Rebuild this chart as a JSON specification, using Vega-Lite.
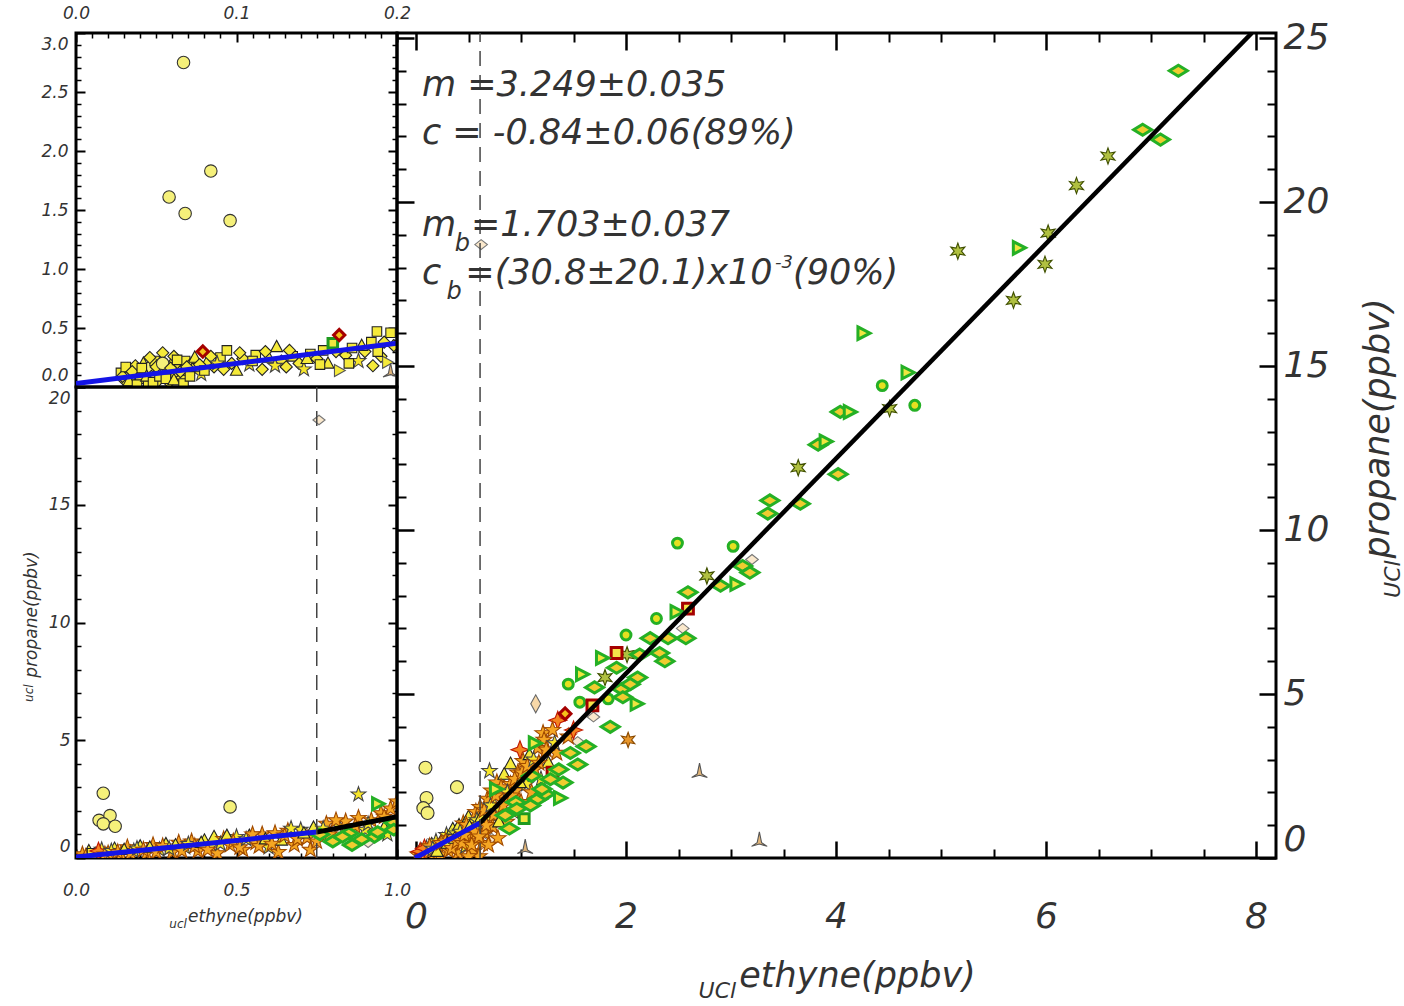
{
"$schema": "https://vega.github.io/schema/vega-lite/v6.json",
"background": "white",
"padding": {"left": 20, "top": 2, "right": 0, "bottom": 0},
"spacing": 321,
"bounds": "flush",
"config": {
  "view": {"stroke": "#000", "strokeWidth": 3},
  "axis": {"domain": false, "grid": false, "labelFont": "DejaVu Sans", "titleFont": "DejaVu Sans", "labelFontStyle": "italic", "titleFontStyle": "italic", "labelColor": "#333", "titleColor": "#333", "titleFontWeight": "normal", "tickColor": "#000"},
  "text": {"font": "DejaVu Sans", "fontStyle": "italic", "color": "#333"}
},
"datasets": {
  "main": [
    {"x":7.26,"y":24.0,"t":"gd"},{"x":6.92,"y":22.2,"t":"gd"},{"x":7.09,"y":21.9,"t":"gd"},{"x":6.59,"y":21.4,"t":"ga"},{"x":6.29,"y":20.5,"t":"ga"},{"x":6.02,"y":19.05,"t":"ga"},{"x":5.99,"y":18.1,"t":"ga"},{"x":5.69,"y":17.0,"t":"ga"},{"x":5.16,"y":18.5,"t":"ga"},{"x":5.74,"y":18.6,"t":"gt"},
    {"x":4.26,"y":16.0,"t":"gt"},{"x":4.68,"y":14.8,"t":"gt"},{"x":4.44,"y":14.4,"t":"gc"},{"x":4.51,"y":13.7,"t":"ga"},{"x":4.75,"y":13.8,"t":"gc"},{"x":4.04,"y":13.6,"t":"gd"},{"x":4.13,"y":13.6,"t":"gt"},{"x":3.83,"y":12.6,"t":"gd"},{"x":3.9,"y":12.7,"t":"gt"},{"x":3.64,"y":11.9,"t":"ga"},
    {"x":4.02,"y":11.7,"t":"gd"},{"x":3.37,"y":10.9,"t":"gd"},{"x":3.66,"y":10.8,"t":"gd"},{"x":3.35,"y":10.5,"t":"gd"},
    {"x":2.49,"y":9.6,"t":"gc"},{"x":3.02,"y":9.5,"t":"gc"},{"x":3.2,"y":9.1,"t":"ps"},{"x":3.11,"y":8.9,"t":"gd"},{"x":3.18,"y":8.7,"t":"gd"},{"x":2.77,"y":8.6,"t":"ga"},{"x":3.05,"y":8.35,"t":"gt"},{"x":2.9,"y":8.3,"t":"gd"},{"x":2.59,"y":8.1,"t":"gd"},{"x":2.59,"y":7.6,"t":"rs"},
    {"x":2.48,"y":7.5,"t":"gt"},{"x":2.29,"y":7.3,"t":"gc"},{"x":2.54,"y":7.0,"t":"ps"},{"x":2.57,"y":6.7,"t":"gd"},{"x":2.4,"y":6.7,"t":"gd"},{"x":2.23,"y":6.7,"t":"gd"},{"x":2.0,"y":6.8,"t":"gc"},{"x":1.91,"y":6.25,"t":"rs"},{"x":2.01,"y":6.2,"t":"ga"},{"x":2.32,"y":6.25,"t":"gd"},
    {"x":2.37,"y":6.0,"t":"gd"},{"x":1.77,"y":6.1,"t":"gt"},{"x":2.13,"y":6.2,"t":"gd"},{"x":1.45,"y":5.3,"t":"gc"},{"x":1.58,"y":5.6,"t":"gt"},{"x":1.91,"y":5.8,"t":"gd"},{"x":2.11,"y":5.5,"t":"gd"},{"x":1.8,"y":5.5,"t":"ga"},{"x":1.7,"y":5.2,"t":"gd"},{"x":1.96,"y":5.15,"t":"gd"},
    {"x":2.04,"y":5.3,"t":"gd"},{"x":2.1,"y":4.7,"t":"gt"},{"x":1.83,"y":4.85,"t":"gc"},{"x":1.97,"y":4.9,"t":"gd"},{"x":1.56,"y":4.75,"t":"gc"},{"x":1.68,"y":4.65,"t":"rs"},{"x":1.69,"y":4.3,"t":"ps"},{"x":1.85,"y":4.0,"t":"gd"},
    {"x":1.14,"y":4.7,"t":"pd"},{"x":1.35,"y":4.2,"t":"r4"},{"x":1.42,"y":4.4,"t":"rd"},{"x":1.21,"y":3.8,"t":"os"},{"x":0.99,"y":3.3,"t":"r4"},{"x":1.13,"y":3.5,"t":"gt"},{"x":1.54,"y":2.85,"t":"gd"},{"x":1.54,"y":3.55,"t":"ps"},{"x":1.47,"y":3.2,"t":"gd"},{"x":1.62,"y":3.4,"t":"gd"},
    {"x":1.3,"y":2.6,"t":"rs"},{"x":0.7,"y":2.65,"t":"ys"},{"x":0.76,"y":2.1,"t":"gt"},{"x":1.16,"y":1.8,"t":"gd"},{"x":1.23,"y":1.95,"t":"gd"},{"x":1.37,"y":1.83,"t":"gt"},{"x":1.03,"y":1.2,"t":"gq"},{"x":0.9,"y":2.87,"t":"yt"},{"x":1.4,"y":2.3,"t":"gd"},{"x":1.1,"y":2.5,"t":"gd"},
    {"x":0.95,"y":1.7,"t":"gd"},{"x":0.85,"y":1.3,"t":"gd"},{"x":0.72,"y":0.6,"t":"ps"},{"x":1.04,"y":0.3,"t":"ty"},{"x":2.7,"y":2.62,"t":"ty"},{"x":3.27,"y":0.52,"t":"ty"},{"x":2.02,"y":3.6,"t":"oa"},{"x":0.62,"y":18.7,"t":"ps"},
    {"x":0.09,"y":2.75,"t":"cy"},{"x":0.39,"y":2.16,"t":"cy"},{"x":0.1,"y":1.83,"t":"cy"},{"x":0.07,"y":1.52,"t":"cy"},{"x":0.11,"y":1.37,"t":"cy"},
    {"x":0.02,"y":0.1,"t":"os"},{"x":0.05,"y":0.25,"t":"yt"},{"x":0.07,"y":0.05,"t":"os"},{"x":0.1,"y":0.3,"t":"ys"},{"x":0.12,"y":0.18,"t":"os"},{"x":0.15,"y":0.42,"t":"yt"},{"x":0.17,"y":0.12,"t":"os"},{"x":0.19,"y":0.5,"t":"ys"},{"x":0.21,"y":0.32,"t":"os"},{"x":0.23,"y":0.1,"t":"os"},
    {"x":0.25,"y":0.58,"t":"yt"},{"x":0.27,"y":0.38,"t":"os"},{"x":0.29,"y":0.7,"t":"ys"},{"x":0.31,"y":0.22,"t":"os"},{"x":0.33,"y":0.6,"t":"os"},{"x":0.35,"y":0.88,"t":"yt"},{"x":0.36,"y":0.42,"t":"os"},{"x":0.38,"y":0.75,"t":"ys"},{"x":0.4,"y":0.15,"t":"os"},{"x":0.41,"y":1.0,"t":"yt"},
    {"x":0.43,"y":0.58,"t":"os"},{"x":0.45,"y":1.05,"t":"os"},{"x":0.47,"y":0.35,"t":"ys"},{"x":0.49,"y":0.85,"t":"os"},{"x":0.5,"y":1.25,"t":"yt"},{"x":0.52,"y":0.62,"t":"os"},{"x":0.54,"y":1.1,"t":"ys"},{"x":0.55,"y":0.2,"t":"os"},{"x":0.57,"y":1.4,"t":"os"},{"x":0.59,"y":0.9,"t":"yt"},
    {"x":0.61,"y":1.55,"t":"os"},{"x":0.63,"y":0.45,"t":"os"},{"x":0.64,"y":1.15,"t":"ys"},{"x":0.66,"y":0.75,"t":"os"},{"x":0.68,"y":1.8,"t":"os"},{"x":0.7,"y":1.3,"t":"yt"},{"x":0.72,"y":2.05,"t":"os"},{"x":0.73,"y":0.95,"t":"os"},{"x":0.75,"y":1.6,"t":"ys"},{"x":0.77,"y":2.3,"t":"os"},
    {"x":0.78,"y":0.6,"t":"os"},{"x":0.8,"y":1.45,"t":"ys"},{"x":0.82,"y":1.95,"t":"os"},{"x":0.84,"y":2.55,"t":"yt"},{"x":0.86,"y":1.1,"t":"os"},{"x":0.88,"y":1.75,"t":"os"},{"x":0.9,"y":2.25,"t":"os"},{"x":0.93,"y":1.4,"t":"ys"},{"x":0.95,"y":2.05,"t":"os"},{"x":0.97,"y":2.6,"t":"os"},
    {"x":1.0,"y":1.7,"t":"os"},{"x":1.02,"y":2.95,"t":"os"},{"x":1.05,"y":2.25,"t":"ys"},{"x":1.08,"y":3.15,"t":"yt"},{"x":1.1,"y":2.0,"t":"os"},{"x":1.13,"y":2.7,"t":"os"},{"x":1.16,"y":3.35,"t":"os"},{"x":1.19,"y":2.4,"t":"ys"},{"x":1.22,"y":3.6,"t":"os"},{"x":1.26,"y":2.9,"t":"yt"},
    {"x":1.3,"y":3.9,"t":"os"},{"x":1.34,"y":3.2,"t":"os"},{"x":0.6,"y":0.05,"t":"os"},{"x":0.5,"y":0.05,"t":"os"},
    {"x":0.04,"y":0.2,"t":"r4"},{"x":0.08,"y":0.3,"t":"r4"},{"x":0.13,"y":0.35,"t":"os"},{"x":0.16,"y":0.28,"t":"ys"},{"x":0.2,"y":0.2,"t":"yt"},{"x":0.24,"y":0.45,"t":"os"},{"x":0.28,"y":0.5,"t":"os"},{"x":0.3,"y":0.45,"t":"yt"},{"x":0.34,"y":0.3,"t":"os"},{"x":0.37,"y":0.6,"t":"yt"},
    {"x":0.39,"y":0.5,"t":"os"},{"x":0.42,"y":0.8,"t":"ys"},{"x":0.44,"y":0.45,"t":"os"},{"x":0.46,"y":0.7,"t":"os"},{"x":0.48,"y":1.0,"t":"os"},{"x":0.51,"y":0.95,"t":"yt"},{"x":0.53,"y":0.4,"t":"os"},{"x":0.56,"y":0.8,"t":"os"},{"x":0.58,"y":1.15,"t":"ys"},{"x":0.6,"y":0.65,"t":"os"},
    {"x":0.62,"y":1.25,"t":"yt"},{"x":0.65,"y":1.45,"t":"os"},{"x":0.67,"y":1.0,"t":"os"},{"x":0.69,"y":0.4,"t":"os"},{"x":0.71,"y":1.6,"t":"ys"},{"x":0.74,"y":1.3,"t":"os"},{"x":0.76,"y":1.9,"t":"os"},{"x":0.79,"y":1.1,"t":"yt"},{"x":0.81,"y":2.15,"t":"os"},{"x":0.83,"y":1.6,"t":"os"},
    {"x":0.87,"y":2.0,"t":"ys"},{"x":0.89,"y":0.9,"t":"gd"},{"x":0.91,"y":1.9,"t":"os"},{"x":0.94,"y":2.4,"t":"os"},{"x":0.96,"y":1.5,"t":"gd"},{"x":0.99,"y":2.3,"t":"yt"},{"x":1.01,"y":2.6,"t":"os"},{"x":1.06,"y":2.8,"t":"os"},{"x":1.09,"y":1.6,"t":"gd"},{"x":1.12,"y":3.0,"t":"ys"},
    {"x":1.17,"y":2.9,"t":"os"},{"x":1.2,"y":2.1,"t":"gd"},{"x":1.24,"y":3.3,"t":"os"},{"x":1.28,"y":2.4,"t":"gd"},{"x":1.32,"y":3.5,"t":"ys"},{"x":1.36,"y":2.7,"t":"gd"},{"x":1.45,"y":3.7,"t":"os"},{"x":1.5,"y":3.9,"t":"r4"}
  ],
  "ins1": [
    {"x":0.067,"y":2.75,"t":"cy"},{"x":0.058,"y":1.61,"t":"cy"},{"x":0.068,"y":1.47,"t":"cy"},{"x":0.084,"y":1.83,"t":"cy"},{"x":0.096,"y":1.41,"t":"cy"},
    {"x":0.028,"y":0.12,"t":"yq"},{"x":0.03,"y":0.06,"t":"yd"},{"x":0.032,"y":0.15,"t":"yt"},{"x":0.034,"y":0.09,"t":"cy"},{"x":0.036,"y":0.04,"t":"yq"},{"x":0.037,"y":0.18,"t":"yd"},{"x":0.039,"y":0.11,"t":"ys"},{"x":0.04,"y":0.07,"t":"yq"},{"x":0.042,"y":0.2,"t":"yt"},{"x":0.043,"y":0.13,"t":"yd"},
    {"x":0.045,"y":0.03,"t":"yq"},{"x":0.046,"y":0.16,"t":"cy"},{"x":0.047,"y":0.09,"t":"yd"},{"x":0.049,"y":0.22,"t":"yq"},{"x":0.05,"y":0.12,"t":"yt"},{"x":0.051,"y":0.05,"t":"yd"},{"x":0.053,"y":0.19,"t":"yq"},{"x":0.054,"y":0.29,"t":"yd"},{"x":0.055,"y":0.1,"t":"cy"},{"x":0.057,"y":0.15,"t":"yq"},
    {"x":0.058,"y":0.04,"t":"yd"},{"x":0.06,"y":0.21,"t":"yt"},{"x":0.061,"y":0.26,"t":"yd"},{"x":0.062,"y":0.12,"t":"yq"},{"x":0.064,"y":0.18,"t":"ys"},{"x":0.066,"y":0.08,"t":"yd"},{"x":0.068,"y":0.22,"t":"yq"},{"x":0.07,"y":0.14,"t":"yt"},{"x":0.072,"y":0.2,"t":"yd"},{"x":0.075,"y":0.16,"t":"yq"},
    {"x":0.078,"y":0.11,"t":"ys"},{"x":0.082,"y":0.22,"t":"yt"},{"x":0.086,"y":0.17,"t":"yd"},{"x":0.09,"y":0.25,"t":"yq"},{"x":0.094,"y":0.31,"t":"yq"},{"x":0.097,"y":0.2,"t":"yd"},{"x":0.1,"y":0.14,"t":"yt"},{"x":0.104,"y":0.24,"t":"yd"},{"x":0.108,"y":0.19,"t":"ys"},{"x":0.112,"y":0.27,"t":"yq"},
    {"x":0.116,"y":0.15,"t":"yd"},{"x":0.12,"y":0.25,"t":"yt"},{"x":0.125,"y":0.34,"t":"yt"},{"x":0.128,"y":0.22,"t":"yd"},{"x":0.131,"y":0.17,"t":"yd"},{"x":0.135,"y":0.26,"t":"yq"},{"x":0.139,"y":0.2,"t":"yd"},{"x":0.142,"y":0.15,"t":"ys"},{"x":0.146,"y":0.28,"t":"yq"},{"x":0.15,"y":0.24,"t":"yd"},
    {"x":0.154,"y":0.31,"t":"yq"},{"x":0.157,"y":0.2,"t":"yt"},{"x":0.16,"y":0.37,"t":"gq"},{"x":0.164,"y":0.14,"t":"yr"},{"x":0.168,"y":0.27,"t":"yd"},{"x":0.172,"y":0.33,"t":"yq"},{"x":0.176,"y":0.22,"t":"ys"},{"x":0.18,"y":0.3,"t":"yd"},{"x":0.184,"y":0.38,"t":"yq"},{"x":0.1875,"y":0.47,"t":"yq"},
    {"x":0.19,"y":0.26,"t":"yd"},{"x":0.194,"y":0.21,"t":"yr"},{"x":0.196,"y":0.46,"t":"yq"},{"x":0.196,"y":0.13,"t":"ty"},{"x":0.198,"y":0.35,"t":"yd"},{"x":0.185,"y":0.18,"t":"yd"},
    {"x":0.029,"y":0.09,"t":"yd"},{"x":0.031,"y":0.17,"t":"yq"},{"x":0.033,"y":0.05,"t":"yt"},{"x":0.035,"y":0.13,"t":"yd"},{"x":0.038,"y":0.02,"t":"yq"},{"x":0.041,"y":0.16,"t":"yq"},{"x":0.044,"y":0.09,"t":"yt"},{"x":0.046,"y":0.25,"t":"yd"},{"x":0.048,"y":0.04,"t":"yq"},{"x":0.05,"y":0.17,"t":"yd"},
    {"x":0.052,"y":0.09,"t":"yq"},{"x":0.054,"y":0.2,"t":"cy"},{"x":0.056,"y":0.07,"t":"yq"},{"x":0.059,"y":0.16,"t":"yd"},{"x":0.061,"y":0.06,"t":"yt"},{"x":0.063,"y":0.23,"t":"yq"},{"x":0.065,"y":0.13,"t":"yd"},{"x":0.067,"y":0.03,"t":"yq"},{"x":0.069,"y":0.17,"t":"yd"},{"x":0.071,"y":0.09,"t":"yq"},
    {"x":0.074,"y":0.25,"t":"yt"},{"x":0.077,"y":0.19,"t":"yd"},{"x":0.08,"y":0.14,"t":"yq"},{"x":0.084,"y":0.26,"t":"yd"},{"x":0.088,"y":0.2,"t":"ys"},{"x":0.092,"y":0.15,"t":"yd"},{"x":0.102,"y":0.29,"t":"yd"},{"x":0.11,"y":0.22,"t":"yq"},{"x":0.118,"y":0.3,"t":"yd"},{"x":0.124,"y":0.18,"t":"ys"},
    {"x":0.133,"y":0.31,"t":"yd"},{"x":0.144,"y":0.24,"t":"yt"},{"x":0.152,"y":0.19,"t":"yq"},{"x":0.162,"y":0.3,"t":"yd"},{"x":0.17,"y":0.2,"t":"yq"},{"x":0.178,"y":0.35,"t":"yt"},{"x":0.188,"y":0.3,"t":"yq"},{"x":0.192,"y":0.38,"t":"yd"},
    {"x":0.079,"y":0.3,"t":"rd"},{"x":0.164,"y":0.44,"t":"rd"}
  ],
  "ins2": [
    {"x":0.085,"y":2.75,"t":"cy"},{"x":0.072,"y":1.6,"t":"cy"},{"x":0.106,"y":1.8,"t":"cy"},{"x":0.085,"y":1.45,"t":"cy"},{"x":0.122,"y":1.35,"t":"cy"},{"x":0.48,"y":2.17,"t":"cy"},
    {"x":0.757,"y":18.6,"t":"ps"},{"x":0.88,"y":2.7,"t":"ys"},{"x":0.94,"y":2.3,"t":"gt"},{"x":0.91,"y":0.65,"t":"ps"},
    {"x":0.02,"y":0.15,"t":"os"},{"x":0.04,"y":0.3,"t":"yt"},{"x":0.06,"y":0.1,"t":"os"},{"x":0.08,"y":0.35,"t":"ys"},{"x":0.1,"y":0.2,"t":"os"},{"x":0.12,"y":0.4,"t":"yt"},{"x":0.14,"y":0.15,"t":"os"},{"x":0.16,"y":0.45,"t":"os"},{"x":0.18,"y":0.3,"t":"ys"},{"x":0.2,"y":0.5,"t":"yt"},
    {"x":0.22,"y":0.2,"t":"os"},{"x":0.24,"y":0.55,"t":"os"},{"x":0.26,"y":0.35,"t":"ys"},{"x":0.28,"y":0.6,"t":"yt"},{"x":0.3,"y":0.25,"t":"os"},{"x":0.32,"y":0.65,"t":"os"},{"x":0.34,"y":0.45,"t":"ys"},{"x":0.36,"y":0.7,"t":"os"},{"x":0.38,"y":0.3,"t":"os"},{"x":0.4,"y":0.75,"t":"yt"},
    {"x":0.42,"y":0.5,"t":"ys"},{"x":0.43,"y":0.9,"t":"yt"},{"x":0.44,"y":0.2,"t":"os"},{"x":0.46,"y":0.8,"t":"os"},{"x":0.48,"y":0.55,"t":"os"},{"x":0.5,"y":0.9,"t":"ys"},{"x":0.52,"y":0.35,"t":"os"},{"x":0.54,"y":0.95,"t":"yt"},{"x":0.56,"y":0.65,"t":"os"},{"x":0.58,"y":1.0,"t":"os"},
    {"x":0.6,"y":0.45,"t":"ys"},{"x":0.62,"y":1.05,"t":"os"},{"x":0.63,"y":0.25,"t":"os"},{"x":0.64,"y":0.75,"t":"yt"},{"x":0.66,"y":1.15,"t":"os"},{"x":0.68,"y":0.55,"t":"os"},{"x":0.7,"y":1.2,"t":"ys"},{"x":0.72,"y":0.85,"t":"os"},{"x":0.73,"y":0.35,"t":"os"},{"x":0.74,"y":1.3,"t":"yt"},
    {"x":0.76,"y":1.0,"t":"gd"},{"x":0.78,"y":1.45,"t":"os"},{"x":0.8,"y":0.7,"t":"gd"},{"x":0.82,"y":1.35,"t":"ys"},{"x":0.84,"y":1.55,"t":"os"},{"x":0.85,"y":1.05,"t":"gd"},{"x":0.86,"y":0.55,"t":"gd"},{"x":0.88,"y":1.7,"t":"os"},{"x":0.9,"y":1.2,"t":"ys"},{"x":0.92,"y":1.6,"t":"os"},
    {"x":0.93,"y":0.9,"t":"gd"},{"x":0.95,"y":1.9,"t":"os"},{"x":0.96,"y":1.3,"t":"yt"},{"x":0.98,"y":2.1,"t":"os"},{"x":0.99,"y":1.5,"t":"gd"},{"x":1.0,"y":2.4,"t":"os"},{"x":0.97,"y":1.0,"t":"ys"},
    {"x":0.03,"y":0.05,"t":"os"},{"x":0.05,"y":0.2,"t":"yq"},{"x":0.07,"y":0.3,"t":"r4"},{"x":0.09,"y":0.15,"t":"os"},{"x":0.11,"y":0.3,"t":"ys"},{"x":0.13,"y":0.25,"t":"os"},{"x":0.15,"y":0.35,"t":"yt"},{"x":0.17,"y":0.2,"t":"os"},{"x":0.19,"y":0.4,"t":"ys"},{"x":0.21,"y":0.35,"t":"os"},
    {"x":0.23,"y":0.45,"t":"yt"},{"x":0.25,"y":0.25,"t":"os"},{"x":0.27,"y":0.5,"t":"os"},{"x":0.29,"y":0.4,"t":"ys"},{"x":0.31,"y":0.55,"t":"yt"},{"x":0.33,"y":0.3,"t":"os"},{"x":0.35,"y":0.6,"t":"ys"},{"x":0.37,"y":0.5,"t":"os"},{"x":0.39,"y":0.65,"t":"yt"},{"x":0.41,"y":0.35,"t":"os"},
    {"x":0.45,"y":0.6,"t":"ys"},{"x":0.47,"y":0.95,"t":"yt"},{"x":0.49,"y":0.7,"t":"os"},{"x":0.51,"y":0.45,"t":"os"},{"x":0.53,"y":0.8,"t":"ys"},{"x":0.55,"y":1.0,"t":"os"},{"x":0.57,"y":0.5,"t":"os"},{"x":0.59,"y":0.8,"t":"yt"},{"x":0.61,"y":0.6,"t":"os"},{"x":0.65,"y":0.95,"t":"os"},
    {"x":0.67,"y":1.25,"t":"ys"},{"x":0.69,"y":0.8,"t":"os"},{"x":0.71,"y":1.05,"t":"yt"},{"x":0.75,"y":0.7,"t":"os"},{"x":0.77,"y":1.25,"t":"ys"},{"x":0.79,"y":1.0,"t":"os"},{"x":0.81,"y":1.6,"t":"os"},{"x":0.83,"y":0.9,"t":"gd"},{"x":0.87,"y":1.35,"t":"os"},{"x":0.89,"y":0.8,"t":"gd"},
    {"x":0.91,"y":1.45,"t":"ys"},{"x":0.94,"y":1.1,"t":"gd"},{"x":0.96,"y":1.75,"t":"os"},{"x":0.99,"y":1.2,"t":"gd"}
  ],
  "main_blue": [{"x":-0.01,"y":0},{"x":0.61,"y":1.07}],
  "main_black": [{"x":0.61,"y":1.07},{"x":7.96,"y":25.15}],
  "main_dash": [{"x":0.61,"y":0},{"x":0.61,"y":25.15}],
  "i1_blue": [{"x":0,"y":0.03},{"x":0.2,"y":0.37}],
  "i2_blue": [{"x":0,"y":0.04},{"x":0.75,"y":1.1}],
  "i2_black": [{"x":0.75,"y":1.1},{"x":1.0,"y":1.75}],
  "i2_dash": [{"x":0.75,"y":0},{"x":0.75,"y":20}],
  "one": [{}]
},
"hconcat": [
  {
    "vconcat": [
      {
        "width": 321, "height": 354,
        "resolve": {"axis": {"x": "independent", "y": "independent"}},
        "layer": [
          {
            "data": {"name": "ins1"},
            "transform": [{"filter": {"not": {"field": "t", "oneOf": ["gd","gt","gc","rs","rd","gq"]}}}],
            "mark": {"type": "point", "filled": true, "opacity": 1, "strokeWidth": 1.1, "size": 300, "clip": true},
            "encoding": {
              "x": {"field": "x", "type": "quantitative", "scale": {"domain": [0, 0.2], "nice": false, "zero": false}, "axis": {"orient": "top", "values": [0, 0.1, 0.2], "format": ".1f", "tickSize": -9, "tickWidth": 2, "labelFontSize": 17, "labelPadding": 20, "labelFlush": false, "title": null}},
              "y": {"field": "y", "type": "quantitative", "scale": {"domain": [0, 3], "nice": false, "zero": false}, "axis": {"orient": "left", "values": [0, 0.5, 1, 1.5, 2, 2.5, 3], "format": ".1f", "tickSize": -9, "tickWidth": 2, "labelFontSize": 17, "labelPadding": 17, "labelFlush": true, "labelFlushOffset": -3, "title": null}},
              "shape": {"field": "t", "type": "nominal", "legend": null, "scale": {"domain": ["cy","gd","gt","gc","ga","rs","pd","ps","ty","os","oa","r4","ys","yq","yd","yt","yr","rd","gq"], "range": ["M0.72,0A0.72,0.72 0 1,1 -0.72,0A0.72,0.72 0 1,1 0.72,0Z","M-1,0L0,-0.62L1,0L0,0.62Z","M-0.6,-0.7L0.75,0L-0.6,0.7Z","M0.55,0A0.55,0.55 0 1,1 -0.55,0A0.55,0.55 0 1,1 0.55,0Z","M0,-0.9L0.2,-0.34L0.78,-0.45L0.4,0L0.78,0.45L0.2,0.34L0,0.9L-0.2,0.34L-0.78,0.45L-0.4,0L-0.78,-0.45L-0.2,-0.34Z","M-0.6,-0.6L0.6,-0.6L0.6,0.6L-0.6,0.6Z","M-0.55,0L0,-1L0.55,0L0,1Z","M-0.7,0L0,-0.55L0.7,0L0,0.55Z","M0,-1L0.25,0.2L0.87,0.6L0,0.35L-0.87,0.6L-0.25,0.2Z","M0,-0.95L0.223,-0.308L0.903,-0.294L0.361,0.118L0.559,0.769L0,0.38L-0.559,0.769L-0.361,0.118L-0.903,-0.294L-0.223,-0.308Z","M0,-0.85L0.19,-0.32L0.74,-0.43L0.38,0L0.74,0.43L0.19,0.32L0,0.85L-0.19,0.32L-0.74,0.43L-0.38,0L-0.74,-0.43L-0.19,-0.32Z","M0,-1L0.28,-0.28L1,0L0.28,0.28L0,1L-0.28,0.28L-1,0L-0.28,-0.28Z","M0,-0.9L0.212,-0.292L0.856,-0.278L0.342,0.112L0.529,0.728L0,0.36L-0.529,0.728L-0.342,0.112L-0.856,-0.278L-0.212,-0.292Z","M-0.55,-0.55L0.55,-0.55L0.55,0.55L-0.55,0.55Z","M-0.7,0L0,-0.7L0.7,0L0,0.7Z","M0,-0.75L0.7,0.55L-0.7,0.55Z","M-0.55,-0.7L0.7,0L-0.55,0.7Z","M-0.65,0L0,-0.65L0.65,0L0,0.65Z","M-0.55,-0.55L0.55,-0.55L0.55,0.55L-0.55,0.55Z"]}},
              "fill": {"field": "t", "type": "nominal", "legend": null, "scale": {"domain": ["cy","gd","gt","gc","ga","rs","pd","ps","ty","os","oa","r4","ys","yq","yd","yt","yr","rd","gq"], "range": ["#f5f07a","#f0cc30","#f0e640","#e6e020","#b0c040","#f5e44a","#f8d8a8","#fae8cc","#e0b478","#f5a623","#e8962a","#f5851f","#f7e62a","#f5ea3a","#f5ea3a","#f5ea3a","#f5ea3a","#f5c21a","#f0e640"]}},
              "stroke": {"field": "t", "type": "nominal", "legend": null, "scale": {"domain": ["cy","gd","gt","gc","ga","rs","pd","ps","ty","os","oa","r4","ys","yq","yd","yt","yr","rd","gq"], "range": ["#333333","#25b025","#25b025","#25b025","#405000","#a50000","#666666","#777777","#555555","#a04a00","#8a4a00","#c01800","#444444","#222222","#222222","#222222","#555555","#a50000","#1f9a1f"]}}
            }
          },
          {
            "data": {"name": "ins1"},
            "transform": [{"filter": {"field": "t", "oneOf": ["gd","gt","gc","rs","rd","gq"]}}],
            "mark": {"type": "point", "filled": true, "opacity": 1, "strokeWidth": 3, "size": 300, "clip": true},
            "encoding": {
              "x": {"field": "x", "type": "quantitative", "axis": null},
              "y": {"field": "y", "type": "quantitative", "axis": null},
              "shape": {"field": "t", "type": "nominal", "legend": null},
              "fill": {"field": "t", "type": "nominal", "legend": null},
              "stroke": {"field": "t", "type": "nominal", "legend": null}
            }
          },
          {
            "data": {"name": "i1_blue"},
            "mark": {"type": "line", "color": "#1414e6", "strokeWidth": 5, "clip": true},
            "encoding": {
              "x": {"field": "x", "type": "quantitative", "axis": {"orient": "top", "values": [0.01,0.02,0.03,0.04,0.05,0.06,0.07,0.08,0.09,0.11,0.12,0.13,0.14,0.15,0.16,0.17,0.18,0.19], "tickSize": -5, "tickWidth": 1.5, "labels": false, "title": null}},
              "y": {"field": "y", "type": "quantitative", "axis": {"orient": "left", "values": [0.1,0.2,0.3,0.4,0.6,0.7,0.8,0.9,1.1,1.2,1.3,1.4,1.6,1.7,1.8,1.9,2.1,2.2,2.3,2.4,2.6,2.7,2.8,2.9], "tickSize": -5, "tickWidth": 1.5, "labels": false, "title": null}}
            }
          },
          {
            "data": {"name": "i1_blue"},
            "mark": {"type": "line", "opacity": 0},
            "encoding": {
              "x": {"field": "x", "type": "quantitative", "axis": null},
              "y": {"field": "y", "type": "quantitative", "axis": {"orient": "right", "values": [0.5, 1, 1.5, 2, 2.5], "tickSize": -9, "tickWidth": 2, "labels": false, "title": null}}
            }
          },
          {
            "data": {"name": "i1_blue"},
            "mark": {"type": "line", "opacity": 0},
            "encoding": {
              "x": {"field": "x", "type": "quantitative", "axis": null},
              "y": {"field": "y", "type": "quantitative", "axis": {"orient": "right", "values": [0.1,0.2,0.3,0.4,0.6,0.7,0.8,0.9,1.1,1.2,1.3,1.4,1.6,1.7,1.8,1.9,2.1,2.2,2.3,2.4,2.6,2.7,2.8,2.9], "tickSize": -5, "tickWidth": 1.5, "labels": false, "title": null}}
            }
          }
        ]
      },
      {
        "width": 321, "height": 471,
        "resolve": {"axis": {"x": "independent", "y": "independent"}},
        "layer": [
          {
            "data": {"name": "ins2"},
            "transform": [{"filter": {"not": {"field": "t", "oneOf": ["gd","gt","gc","rs","rd","gq"]}}}],
            "mark": {"type": "point", "filled": true, "opacity": 1, "strokeWidth": 1.1, "size": 300, "clip": true},
            "encoding": {
              "x": {"field": "x", "type": "quantitative", "scale": {"domain": [0, 1], "nice": false, "zero": false}, "axis": {"orient": "bottom", "values": [0, 0.5, 1], "format": ".1f", "tickSize": -9, "tickWidth": 2, "labelFontSize": 17, "labelPadding": 33, "labelFlush": false, "title": "ethyne(ppbv)", "titleFontSize": 17, "titlePadding": 10, "titleX": 169}},
              "y": {"field": "y", "type": "quantitative", "scale": {"domain": [0, 20], "nice": false, "zero": false}, "axis": {"orient": "left", "values": [0, 5, 10, 15, 20], "format": "d", "tickSize": -9, "tickWidth": 2, "labelFontSize": 17, "labelPadding": 15, "labelFlush": true, "labelFlushOffset": -3, "title": "propane(ppbv)", "titleFontSize": 17, "titlePadding": 8, "titleY": 227}},
              "shape": {"field": "t", "type": "nominal", "legend": null, "scale": {"domain": ["cy","gd","gt","gc","ga","rs","pd","ps","ty","os","oa","r4","ys","yq","yd","yt","yr","rd","gq"], "range": ["M0.72,0A0.72,0.72 0 1,1 -0.72,0A0.72,0.72 0 1,1 0.72,0Z","M-1,0L0,-0.62L1,0L0,0.62Z","M-0.6,-0.7L0.75,0L-0.6,0.7Z","M0.55,0A0.55,0.55 0 1,1 -0.55,0A0.55,0.55 0 1,1 0.55,0Z","M0,-0.9L0.2,-0.34L0.78,-0.45L0.4,0L0.78,0.45L0.2,0.34L0,0.9L-0.2,0.34L-0.78,0.45L-0.4,0L-0.78,-0.45L-0.2,-0.34Z","M-0.6,-0.6L0.6,-0.6L0.6,0.6L-0.6,0.6Z","M-0.55,0L0,-1L0.55,0L0,1Z","M-0.7,0L0,-0.55L0.7,0L0,0.55Z","M0,-1L0.25,0.2L0.87,0.6L0,0.35L-0.87,0.6L-0.25,0.2Z","M0,-0.95L0.223,-0.308L0.903,-0.294L0.361,0.118L0.559,0.769L0,0.38L-0.559,0.769L-0.361,0.118L-0.903,-0.294L-0.223,-0.308Z","M0,-0.85L0.19,-0.32L0.74,-0.43L0.38,0L0.74,0.43L0.19,0.32L0,0.85L-0.19,0.32L-0.74,0.43L-0.38,0L-0.74,-0.43L-0.19,-0.32Z","M0,-1L0.28,-0.28L1,0L0.28,0.28L0,1L-0.28,0.28L-1,0L-0.28,-0.28Z","M0,-0.9L0.212,-0.292L0.856,-0.278L0.342,0.112L0.529,0.728L0,0.36L-0.529,0.728L-0.342,0.112L-0.856,-0.278L-0.212,-0.292Z","M-0.55,-0.55L0.55,-0.55L0.55,0.55L-0.55,0.55Z","M-0.7,0L0,-0.7L0.7,0L0,0.7Z","M0,-0.75L0.7,0.55L-0.7,0.55Z","M-0.55,-0.7L0.7,0L-0.55,0.7Z","M-0.65,0L0,-0.65L0.65,0L0,0.65Z","M-0.55,-0.55L0.55,-0.55L0.55,0.55L-0.55,0.55Z"]}},
              "fill": {"field": "t", "type": "nominal", "legend": null, "scale": {"domain": ["cy","gd","gt","gc","ga","rs","pd","ps","ty","os","oa","r4","ys","yq","yd","yt","yr","rd","gq"], "range": ["#f5f07a","#f0cc30","#f0e640","#e6e020","#b0c040","#f5e44a","#f8d8a8","#fae8cc","#e0b478","#f5a623","#e8962a","#f5851f","#f7e62a","#f5ea3a","#f5ea3a","#f5ea3a","#f5ea3a","#f5c21a","#f0e640"]}},
              "stroke": {"field": "t", "type": "nominal", "legend": null, "scale": {"domain": ["cy","gd","gt","gc","ga","rs","pd","ps","ty","os","oa","r4","ys","yq","yd","yt","yr","rd","gq"], "range": ["#333333","#25b025","#25b025","#25b025","#405000","#a50000","#666666","#777777","#555555","#a04a00","#8a4a00","#c01800","#444444","#222222","#222222","#222222","#555555","#a50000","#1f9a1f"]}}
            }
          },
          {
            "data": {"name": "ins2"},
            "transform": [{"filter": {"field": "t", "oneOf": ["gd","gt","gc","rs","rd","gq"]}}],
            "mark": {"type": "point", "filled": true, "opacity": 1, "strokeWidth": 3, "size": 300, "clip": true},
            "encoding": {
              "x": {"field": "x", "type": "quantitative", "axis": null},
              "y": {"field": "y", "type": "quantitative", "axis": null},
              "shape": {"field": "t", "type": "nominal", "legend": null},
              "fill": {"field": "t", "type": "nominal", "legend": null},
              "stroke": {"field": "t", "type": "nominal", "legend": null}
            }
          },
          {
            "data": {"name": "i2_blue"},
            "mark": {"type": "line", "color": "#1414e6", "strokeWidth": 5, "clip": true},
            "encoding": {
              "x": {"field": "x", "type": "quantitative", "axis": {"orient": "bottom", "values": [0.1,0.2,0.3,0.4,0.6,0.7,0.8,0.9], "tickSize": -5, "tickWidth": 1.5, "labels": false, "title": null}},
              "y": {"field": "y", "type": "quantitative", "axis": {"orient": "left", "values": [1,2,3,4,6,7,8,9,11,12,13,14,16,17,18,19], "tickSize": -5, "tickWidth": 1.5, "labels": false, "title": null}}
            }
          },
          {
            "data": {"name": "i2_black"},
            "mark": {"type": "line", "color": "#000", "strokeWidth": 5, "clip": true},
            "encoding": {
              "x": {"field": "x", "type": "quantitative", "axis": null},
              "y": {"field": "y", "type": "quantitative", "axis": {"orient": "right", "values": [5, 10, 15], "tickSize": -9, "tickWidth": 2, "labels": false, "title": null}}
            }
          },
          {
            "data": {"name": "i2_dash"},
            "mark": {"type": "line", "color": "#444", "strokeWidth": 1.5, "strokeDash": [15, 9], "clip": true},
            "encoding": {
              "x": {"field": "x", "type": "quantitative", "axis": null},
              "y": {"field": "y", "type": "quantitative", "axis": {"orient": "right", "values": [1,2,3,4,6,7,8,9,11,12,13,14,16,17,18,19], "tickSize": -5, "tickWidth": 1.5, "labels": false, "title": null}}
            }
          },
          {
            "data": {"name": "one"},
            "mark": {"type": "text", "fontSize": 12, "angle": 270, "align": "center", "baseline": "middle"},
            "encoding": {"x": {"datum": -0.146, "type": "quantitative", "axis": null}, "y": {"datum": 7.0, "type": "quantitative", "axis": null}, "text": {"value": "ucl"}}
          },
          {
            "data": {"name": "one"},
            "mark": {"type": "text", "fontSize": 12, "align": "center", "baseline": "middle"},
            "encoding": {"x": {"datum": 0.318, "type": "quantitative", "axis": null}, "y": {"datum": -2.8, "type": "quantitative", "axis": null}, "text": {"value": "ucl"}}
          }
        ]
      }
    ],
    "spacing": 0,
    "bounds": "flush"
  },
  {
    "width": 879, "height": 825,
    "resolve": {"axis": {"x": "independent", "y": "independent"}},
    "layer": [
      {
        "data": {"name": "main"},
        "transform": [{"filter": {"not": {"field": "t", "oneOf": ["gd","gt","gc","rs","rd","gq"]}}}],
        "mark": {"type": "point", "filled": true, "opacity": 1, "strokeWidth": 1.1, "size": 324, "clip": true},
        "encoding": {
          "x": {"field": "x", "type": "quantitative", "scale": {"domain": [-0.181, 8.19], "nice": false, "zero": false}, "axis": {"orient": "bottom", "values": [0, 2, 4, 6, 8], "format": "d", "tickSize": -17, "tickWidth": 2.5, "labelFontSize": 36, "labelPadding": 58, "labelFlush": false, "title": "ethyne(ppbv)", "titleFontSize": 35, "titlePadding": 24, "titleX": 460}},
          "y": {"field": "y", "type": "quantitative", "scale": {"domain": [0, 25.15], "nice": false, "zero": false}, "axis": {"orient": "right", "values": [0, 5, 10, 15, 20, 25], "format": "d", "tickSize": -17, "tickWidth": 2.5, "labelFontSize": 36, "labelPadding": 24, "labelFlush": true, "title": "propane(ppbv)", "titleFontSize": 35, "titleAngle": 270, "titleBaseline": "top", "titlePadding": 32, "titleY": 395}},
          "shape": {"field": "t", "type": "nominal", "legend": null, "scale": {"domain": ["cy","gd","gt","gc","ga","rs","pd","ps","ty","os","oa","r4","ys","yq","yd","yt","yr","rd","gq"], "range": ["M0.72,0A0.72,0.72 0 1,1 -0.72,0A0.72,0.72 0 1,1 0.72,0Z","M-1,0L0,-0.62L1,0L0,0.62Z","M-0.6,-0.7L0.75,0L-0.6,0.7Z","M0.55,0A0.55,0.55 0 1,1 -0.55,0A0.55,0.55 0 1,1 0.55,0Z","M0,-0.9L0.2,-0.34L0.78,-0.45L0.4,0L0.78,0.45L0.2,0.34L0,0.9L-0.2,0.34L-0.78,0.45L-0.4,0L-0.78,-0.45L-0.2,-0.34Z","M-0.6,-0.6L0.6,-0.6L0.6,0.6L-0.6,0.6Z","M-0.55,0L0,-1L0.55,0L0,1Z","M-0.7,0L0,-0.55L0.7,0L0,0.55Z","M0,-1L0.25,0.2L0.87,0.6L0,0.35L-0.87,0.6L-0.25,0.2Z","M0,-0.95L0.223,-0.308L0.903,-0.294L0.361,0.118L0.559,0.769L0,0.38L-0.559,0.769L-0.361,0.118L-0.903,-0.294L-0.223,-0.308Z","M0,-0.85L0.19,-0.32L0.74,-0.43L0.38,0L0.74,0.43L0.19,0.32L0,0.85L-0.19,0.32L-0.74,0.43L-0.38,0L-0.74,-0.43L-0.19,-0.32Z","M0,-1L0.28,-0.28L1,0L0.28,0.28L0,1L-0.28,0.28L-1,0L-0.28,-0.28Z","M0,-0.9L0.212,-0.292L0.856,-0.278L0.342,0.112L0.529,0.728L0,0.36L-0.529,0.728L-0.342,0.112L-0.856,-0.278L-0.212,-0.292Z","M-0.55,-0.55L0.55,-0.55L0.55,0.55L-0.55,0.55Z","M-0.7,0L0,-0.7L0.7,0L0,0.7Z","M0,-0.75L0.7,0.55L-0.7,0.55Z","M-0.55,-0.7L0.7,0L-0.55,0.7Z","M-0.65,0L0,-0.65L0.65,0L0,0.65Z","M-0.55,-0.55L0.55,-0.55L0.55,0.55L-0.55,0.55Z"]}},
          "fill": {"field": "t", "type": "nominal", "legend": null, "scale": {"domain": ["cy","gd","gt","gc","ga","rs","pd","ps","ty","os","oa","r4","ys","yq","yd","yt","yr","rd","gq"], "range": ["#f5f07a","#f0cc30","#f0e640","#e6e020","#b0c040","#f5e44a","#f8d8a8","#fae8cc","#e0b478","#f5a623","#e8962a","#f5851f","#f7e62a","#f5ea3a","#f5ea3a","#f5ea3a","#f5ea3a","#f5c21a","#f0e640"]}},
          "stroke": {"field": "t", "type": "nominal", "legend": null, "scale": {"domain": ["cy","gd","gt","gc","ga","rs","pd","ps","ty","os","oa","r4","ys","yq","yd","yt","yr","rd","gq"], "range": ["#333333","#25b025","#25b025","#25b025","#405000","#a50000","#666666","#777777","#555555","#a04a00","#8a4a00","#c01800","#444444","#222222","#222222","#222222","#555555","#a50000","#1f9a1f"]}}
        }
      },
      {
        "data": {"name": "main"},
        "transform": [{"filter": {"field": "t", "oneOf": ["gd","gt","gc","rs","rd","gq"]}}],
        "mark": {"type": "point", "filled": true, "opacity": 1, "strokeWidth": 3, "size": 324, "clip": true},
        "encoding": {
          "x": {"field": "x", "type": "quantitative", "axis": null},
          "y": {"field": "y", "type": "quantitative", "axis": null},
          "shape": {"field": "t", "type": "nominal", "legend": null},
          "fill": {"field": "t", "type": "nominal", "legend": null},
          "stroke": {"field": "t", "type": "nominal", "legend": null}
        }
      },
      {
        "data": {"name": "main_blue"},
        "mark": {"type": "line", "color": "#1414e6", "strokeWidth": 5, "clip": true},
        "encoding": {
          "x": {"field": "x", "type": "quantitative", "axis": {"orient": "bottom", "values": [0.5,1,1.5,2.5,3,3.5,4.5,5,5.5,6.5,7,7.5], "tickSize": -9, "tickWidth": 2, "labels": false, "title": null}},
          "y": {"field": "y", "type": "quantitative", "axis": {"orient": "right", "values": [1,2,3,4,6,7,8,9,11,12,13,14,16,17,18,19,21,22,23,24], "tickSize": -9, "tickWidth": 2, "labels": false, "title": null}}
        }
      },
      {
        "data": {"name": "main_black"},
        "mark": {"type": "line", "color": "#000", "strokeWidth": 4.5, "clip": true},
        "encoding": {
          "x": {"field": "x", "type": "quantitative", "axis": {"orient": "top", "values": [0, 2, 4, 6, 8], "tickSize": -17, "tickWidth": 2.5, "labels": false, "title": null}},
          "y": {"field": "y", "type": "quantitative", "axis": {"orient": "left", "values": [5, 10, 15, 20, 25], "tickSize": -17, "tickWidth": 2.5, "labels": false, "title": null}}
        }
      },
      {
        "data": {"name": "main_dash"},
        "mark": {"type": "line", "color": "#444", "strokeWidth": 1.5, "strokeDash": [15, 9], "clip": true},
        "encoding": {
          "x": {"field": "x", "type": "quantitative", "axis": {"orient": "top", "values": [0.5,1,1.5,2.5,3,3.5,4.5,5,5.5,6.5,7,7.5], "tickSize": -9, "tickWidth": 2, "labels": false, "title": null}},
          "y": {"field": "y", "type": "quantitative", "axis": {"orient": "left", "values": [1,2,3,4,6,7,8,9,11,12,13,14,16,17,18,19,21,22,23,24], "tickSize": -9, "tickWidth": 2, "labels": false, "title": null}}
        }
      },
      {
        "data": {"name": "one"},
        "mark": {"type": "text", "fontSize": 35, "align": "left", "baseline": "alphabetic"},
        "encoding": {"x": {"datum": 0.057, "type": "quantitative", "axis": null}, "y": {"datum": 23.23, "type": "quantitative", "axis": null}, "text": {"value": "m =3.249±0.035"}}
      },
      {
        "data": {"name": "one"},
        "mark": {"type": "text", "fontSize": 35, "align": "left", "baseline": "alphabetic"},
        "encoding": {"x": {"datum": 0.057, "type": "quantitative", "axis": null}, "y": {"datum": 21.77, "type": "quantitative", "axis": null}, "text": {"value": "c = -0.84±0.06(89%)"}}
      },
      {
        "data": {"name": "one"},
        "mark": {"type": "text", "fontSize": 35, "align": "left", "baseline": "alphabetic"},
        "encoding": {"x": {"datum": 0.057, "type": "quantitative", "axis": null}, "y": {"datum": 18.96, "type": "quantitative", "axis": null}, "text": {"value": "m"}}
      },
      {
        "data": {"name": "one"},
        "mark": {"type": "text", "fontSize": 24, "align": "left", "baseline": "alphabetic"},
        "encoding": {"x": {"datum": 0.37, "type": "quantitative", "axis": null}, "y": {"datum": 18.5, "type": "quantitative", "axis": null}, "text": {"value": "b"}}
      },
      {
        "data": {"name": "one"},
        "mark": {"type": "text", "fontSize": 35, "align": "left", "baseline": "alphabetic"},
        "encoding": {"x": {"datum": 0.524, "type": "quantitative", "axis": null}, "y": {"datum": 18.96, "type": "quantitative", "axis": null}, "text": {"value": "=1.703±0.037"}}
      },
      {
        "data": {"name": "one"},
        "mark": {"type": "text", "fontSize": 35, "align": "left", "baseline": "alphabetic"},
        "encoding": {"x": {"datum": 0.057, "type": "quantitative", "axis": null}, "y": {"datum": 17.5, "type": "quantitative", "axis": null}, "text": {"value": "c"}}
      },
      {
        "data": {"name": "one"},
        "mark": {"type": "text", "fontSize": 24, "align": "left", "baseline": "alphabetic"},
        "encoding": {"x": {"datum": 0.29, "type": "quantitative", "axis": null}, "y": {"datum": 17.04, "type": "quantitative", "axis": null}, "text": {"value": "b"}}
      },
      {
        "data": {"name": "one"},
        "mark": {"type": "text", "fontSize": 35, "align": "left", "baseline": "alphabetic"},
        "encoding": {"x": {"datum": 0.47, "type": "quantitative", "axis": null}, "y": {"datum": 17.5, "type": "quantitative", "axis": null}, "text": {"value": "=(30.8±20.1)x10"}}
      },
      {
        "data": {"name": "one"},
        "mark": {"type": "text", "fontSize": 18, "align": "left", "baseline": "alphabetic"},
        "encoding": {"x": {"datum": 3.42, "type": "quantitative", "axis": null}, "y": {"datum": 17.98, "type": "quantitative", "axis": null}, "text": {"value": "-3"}}
      },
      {
        "data": {"name": "one"},
        "mark": {"type": "text", "fontSize": 35, "align": "left", "baseline": "alphabetic"},
        "encoding": {"x": {"datum": 3.59, "type": "quantitative", "axis": null}, "y": {"datum": 17.5, "type": "quantitative", "axis": null}, "text": {"value": "(90%)"}}
      },
      {
        "data": {"name": "one"},
        "mark": {"type": "text", "fontSize": 22, "align": "center", "baseline": "middle"},
        "encoding": {"x": {"datum": 2.87, "type": "quantitative", "axis": null}, "y": {"datum": -4.05, "type": "quantitative", "axis": null}, "text": {"value": "UCl"}}
      },
      {
        "data": {"name": "one"},
        "mark": {"type": "text", "fontSize": 22, "angle": 270, "align": "center", "baseline": "middle"},
        "encoding": {"x": {"datum": 9.3, "type": "quantitative", "axis": null}, "y": {"datum": 8.5, "type": "quantitative", "axis": null}, "text": {"value": "UCl"}}
      }
    ]
  }
]
}
